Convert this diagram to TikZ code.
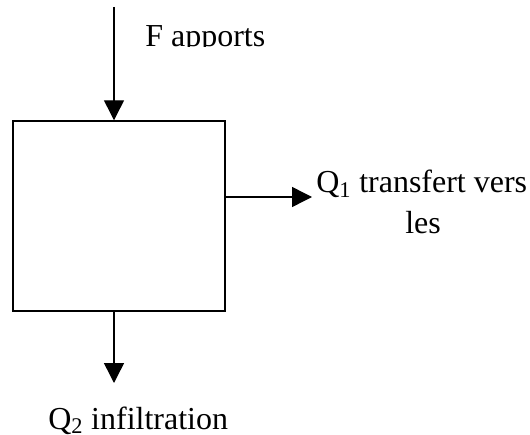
\documentclass[tikz,border=0pt]{standalone}
\usepackage{fontspec}
\setmainfont{Liberation Serif}
\usetikzlibrary{arrows.meta}
\tikzset{
  flow/.style={line width=1.1pt, -{Triangle[length=15pt,width=15pt]}},
  boxstyle/.style={draw, line width=1.1pt, minimum width=159pt, minimum height=142.5pt, inner sep=0pt},
  lbl/.style={anchor=base west, inner sep=0pt, font=\fontsize{24}{29}\selectfont}
}
\begin{document}
\begin{tikzpicture}[x=0.75pt,y=-0.75pt]
\useasboundingbox (0,0) rectangle (530,434);
\node[boxstyle] (box) at (119,216) {};
\coordinate (ftop) at (114,7);
\coordinate (qtip) at (312,197);
\coordinate (otip) at (114,383);
\draw[flow] (ftop) -- (ftop |- box.north);
\draw[flow] (box.east |- qtip) -- (qtip);
\draw[flow] (box.south -| otip) -- (otip);
\begin{scope}
\clip (140,0) rectangle (300,47);
\node[lbl] (f) at (145,47) {F apports};
\end{scope}
\node[lbl] (q1) at (316,193) {Q\textsubscript{1} transfert vers};
\node[lbl] (les) at (405,233) {les};
\node[lbl] (q2) at (48,429) {Q\textsubscript{2} infiltration};
\end{tikzpicture}
\end{document}
